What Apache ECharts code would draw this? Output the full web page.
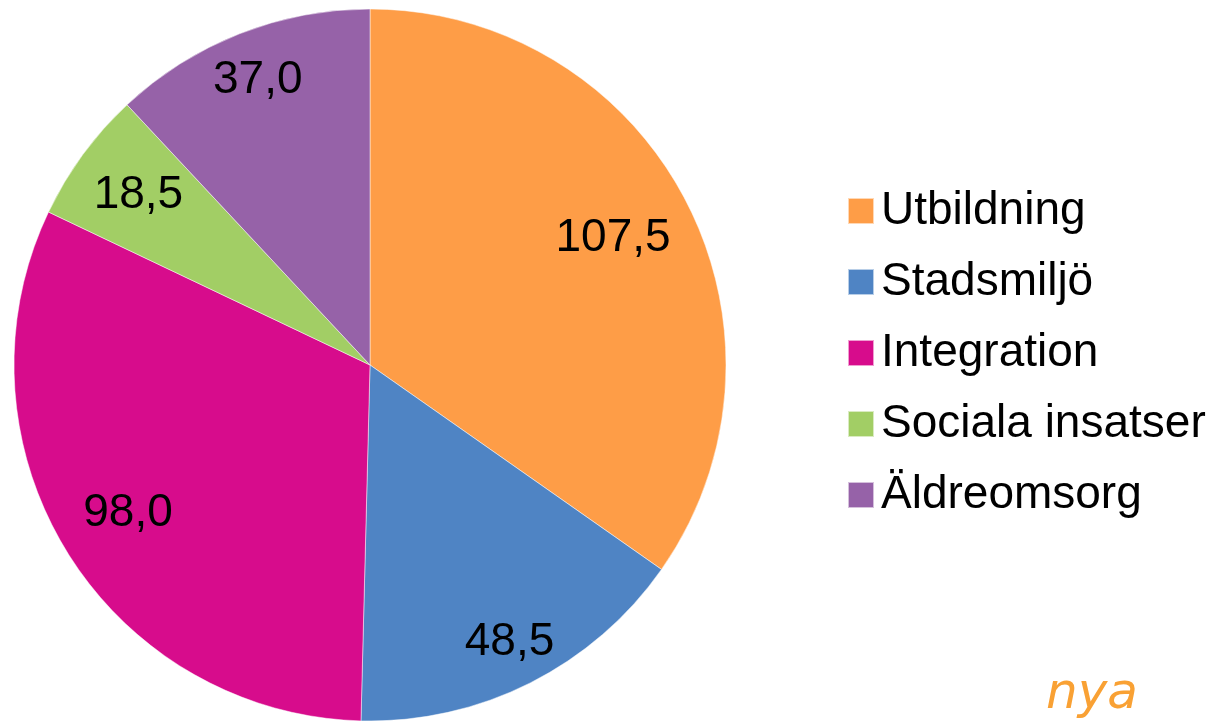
<!DOCTYPE html>
<html>
<head>
<meta charset="utf-8">
<script src="https://cdn.jsdelivr.net/npm/echarts@6/dist/echarts.min.js"></script>
<style>
html,body{margin:0;padding:0;background:#fff;}
#chart{width:1224px;height:721px;}
</style>
</head>
<body>
<div id="chart"></div>
<script>
const categories = ['Utbildning', 'Stadsmiljö', 'Integration', 'Sociala insatser', 'Äldreomsorg'];
const values = [107.5, 48.5, 98.0, 18.5, 37.0];
const colors = ['#FE9D47', '#4F84C4', '#D70C8C', '#A2CE65', '#9662A8'];

const pieData = categories.map((name, i) => ({ name: name, value: values[i], itemStyle: { color: colors[i] } }));
const labelData = categories.map((name, i) => ({ name: name, value: values[i] }));

const CX = 370, CY = 365, R = 356;
// radial placement of each label (Excel "best fit" style), in px from centre
const labelRadius = [274, 310, 284, 287, 306];
const baseLabelRadius = 290;

const chart = echarts.init(document.getElementById('chart'), null, { renderer: 'canvas' });
chart.setOption({
  animation: false,
  backgroundColor: '#ffffff',
  legend: {
    orient: 'vertical',
    left: 842,
    top: 181,
    itemWidth: 26,
    itemHeight: 26,
    itemGap: 21,
    icon: 'rect',
    data: categories,
    selectedMode: false,
    textStyle: {
      fontFamily: 'Liberation Sans, Arial, sans-serif',
      fontSize: 46,
      lineHeight: 50,
      color: '#000',
      padding: [0, 0, 0, 2]
    }
  },
  graphic: [{
    type: 'text',
    left: 1046,
    top: 670,
    style: {
      text: 'nya',
      fill: '#F9A134',
      font: 'italic 50px "DejaVu Sans", sans-serif'
    },
    silent: true
  }],
  series: [
    {
      type: 'pie',
      center: [CX, CY],
      radius: R,
      startAngle: 90,
      clockwise: true,
      silent: true,
      label: { show: false },
      labelLine: { show: false },
      itemStyle: { borderColor: 'rgba(255,255,255,0.6)', borderWidth: 0.8 },
      data: pieData
    },
    {
      type: 'pie',
      center: [CX, CY],
      radius: [2 * baseLabelRadius - R, R],
      startAngle: 90,
      clockwise: true,
      silent: true,
      legendHoverLink: false,
      itemStyle: { color: 'rgba(0,0,0,0)' },
      label: {
        show: true,
        position: 'inside',
        fontFamily: 'Liberation Sans, Arial, sans-serif',
        fontSize: 46,
        color: '#000',
        formatter: p => p.value.toFixed(1).replace('.', ',')
      },
      labelLayout: function (params) {
        const r = params.labelRect;
        const mx = r.x + r.width / 2 - CX;
        const my = r.y + r.height / 2 - CY;
        const d = Math.sqrt(mx * mx + my * my) || 1;
        const k = labelRadius[params.dataIndex] / d - 1;
        return { dx: mx * k, dy: my * k };
      },
      labelLine: { show: false },
      data: labelData
    }
  ]
});
</script>
</body>
</html>
